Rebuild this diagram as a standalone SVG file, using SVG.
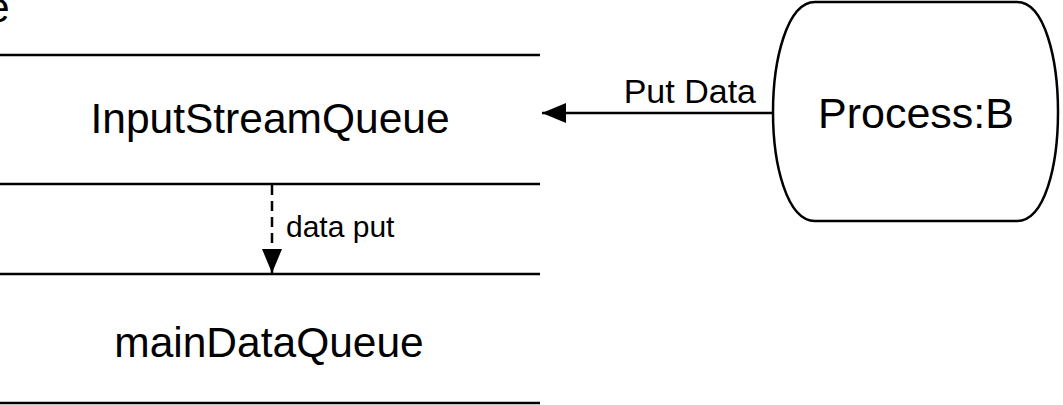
<svg xmlns="http://www.w3.org/2000/svg" width="1063" height="405" viewBox="0 0 1063 405">
<style>
.t{font-family:"Liberation Sans",Arial,sans-serif;fill:#000}
.ln{stroke:#000;stroke-width:2.5;fill:none}
</style>
<defs>
<marker id="ah" viewBox="0 0 24 20" refX="24" refY="10" markerWidth="24" markerHeight="20" markerUnits="userSpaceOnUse" orient="auto">
<path d="M0,0 L24,10 L0,20 Z" fill="#000"/>
</marker>
</defs>
<rect width="1063" height="405" fill="#fff"/>
<text class="t" x="-14" y="22" font-size="42.5">e</text>
<g id="inputStreamQueue">
<line class="ln" x1="0" y1="55" x2="540" y2="55"/>
<line class="ln" x1="0" y1="184" x2="540" y2="184"/>
<text class="t" x="270" y="133" font-size="42.5" text-anchor="middle">InputStreamQueue</text>
</g>
<g id="mainDataQueue">
<line class="ln" x1="0" y1="274" x2="540" y2="274"/>
<line class="ln" x1="0" y1="403" x2="540" y2="403"/>
<text class="t" x="269" y="357" font-size="42.5" text-anchor="middle">mainDataQueue</text>
</g>
<g id="processB">
<path class="ln" d="M815,2 H1017 C1045,2 1058,60 1058,112 C1058,165 1045,221 1017,221 H815 C787,221 773,165 773,112 C773,60 787,2 815,2 Z"/>
<text class="t" x="916" y="128" font-size="43" text-anchor="middle">Process:B</text>
</g>
<g id="connectors">
<line class="ln" x1="774" y1="113" x2="542" y2="113" marker-end="url(#ah)"/>
<text class="t" x="756" y="103" font-size="34" text-anchor="end">Put Data</text>
<line class="ln" x1="272" y1="185" x2="272" y2="273" stroke-dasharray="10,6" marker-end="url(#ah)"/>
<text class="t" x="286" y="237" font-size="30">data put</text>
</g>
</svg>
